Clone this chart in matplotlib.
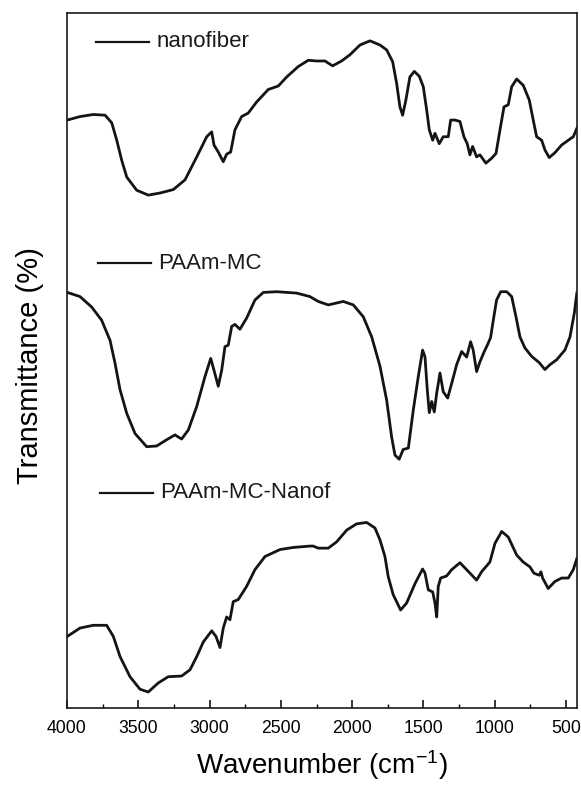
import numpy as np
import matplotlib
matplotlib.use("Agg")
from matplotlib import pyplot as plt
from matplotlib.ticker import MultipleLocator

plt.rcParams['font.family'] = ['Liberation Sans', 'DejaVu Sans']
plt.rcParams['mathtext.default'] = 'regular'

# FTIR spectra (wavenumber in cm-1, transmittance in arbitrary %)
NAMES = ["nanofiber", "PAAm-MC", "PAAm-MC-Nanof"]

wn_nano = [3998, 3909, 3816, 3733, 3686, 3651, 3616, 3581, 3511, 3430, 3348, 3254, 3172, 3090,
           3020, 2985, 2969, 2939, 2904, 2880, 2852, 2822, 2775, 2729, 2670, 2588, 2518, 2459,
           2378, 2308, 2249, 2191, 2137, 2074, 2015, 1945, 1875, 1805, 1758, 1716, 1688, 1665,
           1646, 1623, 1595, 1564, 1529, 1501, 1477, 1459, 1435, 1419, 1389, 1361, 1326, 1309,
           1279, 1244, 1216, 1193, 1174, 1155, 1127, 1104, 1062, 1022, 991, 963, 935, 905, 881,
           846, 800, 758, 725, 706, 671, 648, 618, 578, 531, 484, 449, 424]
t_nano = [84.6, 85.1, 85.4, 85.3, 84.2, 81.7, 78.8, 76.4, 74.5, 73.8, 74.1, 74.6, 76.0, 79.3,
          82.2, 82.9, 81.0, 80.0, 78.6, 79.7, 80.0, 83.2, 85.1, 85.6, 87.2, 89.0, 89.5, 90.8,
          92.3, 93.2, 93.1, 93.1, 92.4, 93.1, 94.0, 95.4, 96.0, 95.4, 94.7, 93.0, 89.9, 86.5,
          85.3, 87.5, 90.8, 91.6, 90.9, 89.4, 86.0, 83.2, 81.7, 82.7, 81.2, 82.2, 82.2, 84.6,
          84.6, 84.4, 82.2, 81.2, 79.6, 80.8, 79.3, 79.6, 78.4, 79.1, 79.8, 83.2, 86.5, 86.8, 89.4,
          90.5, 89.6, 87.5, 84.1, 82.2, 81.7, 80.3, 79.2, 79.9, 81.0, 81.7, 82.2, 83.4]

wn_paam = [3998, 3909, 3827, 3757, 3698, 3663, 3628, 3581, 3523, 3441, 3371, 3301, 3243, 3196,
           3149, 3090, 3032, 2992, 2969, 2939, 2915, 2892, 2869, 2845, 2822, 2787, 2740, 2682,
           2623, 2529, 2389, 2296, 2238, 2167, 2062, 1992, 1922, 1863, 1805, 1758, 1723, 1700,
           1670, 1642, 1606, 1571, 1536, 1506, 1489, 1473, 1459, 1442, 1424, 1407, 1384, 1361,
           1330, 1302, 1267, 1232, 1197, 1169, 1151, 1127, 1104, 1073, 1052, 1029, 1010, 987,
           958, 916, 881, 851, 823, 788, 741, 688, 648, 613, 566, 508, 472, 442, 424]
t_paam = [59.8, 59.2, 57.7, 55.8, 52.9, 49.6, 45.8, 42.4, 39.5, 37.6, 37.7, 38.6, 39.3, 38.7,
          40.0, 43.4, 47.7, 50.3, 48.6, 46.3, 48.6, 52.0, 52.2, 54.9, 55.2, 54.5, 56.1, 58.7,
          59.8, 59.9, 59.7, 59.2, 58.5, 58.0, 58.5, 58.0, 56.3, 53.4, 49.2, 44.3, 39.0, 36.4,
          35.8, 37.2, 37.4, 42.9, 47.7, 51.5, 50.5, 45.8, 42.5, 44.1, 42.6, 45.3, 48.2, 45.5,
          44.6, 46.7, 49.4, 51.3, 50.5, 52.7, 51.5, 48.4, 49.8, 51.3, 52.2, 53.3, 55.8, 58.7,
          59.9, 59.9, 59.2, 56.3, 53.4, 51.8, 50.6, 49.7, 48.7, 49.4, 50.1, 51.5, 53.4, 56.8, 59.7]

wn_comp = [3998, 3909, 3816, 3722, 3675, 3628, 3558, 3488, 3430, 3360, 3290, 3196, 3137, 3090,
           3044, 2985, 2955, 2927, 2904, 2880, 2857, 2834, 2799, 2740, 2682, 2611, 2506, 2413,
           2296, 2273, 2238, 2167, 2109, 2038, 1968, 1898, 1840, 1805, 1770, 1747, 1712, 1660,
           1618, 1559, 1506, 1489, 1466, 1435, 1419, 1407, 1396, 1379, 1337, 1302, 1244, 1197,
           1127, 1092, 1034, 998, 951, 905, 846, 800, 753, 725, 688, 676, 664, 625, 578, 531,
           484, 449, 424]
t_comp = [10.3, 11.5, 11.9, 11.9, 10.3, 7.4, 4.5, 2.7, 2.3, 3.6, 4.5, 4.6, 5.5, 7.4,
          9.5, 11.1, 10.3, 8.7, 11.5, 13.1, 12.7, 15.3, 15.6, 17.5, 19.9, 21.8, 22.8, 23.1,
          23.3, 23.3, 23.0, 23.0, 23.9, 25.6, 26.5, 26.7, 25.9, 24.2, 21.8, 18.9, 16.3, 14.1,
          15.1, 17.9, 20.0, 19.4, 17.0, 16.7, 15.1, 13.1, 17.5, 18.7, 19.0, 19.9, 20.9, 19.9,
          18.4, 19.6, 21.0, 23.7, 25.4, 24.6, 22.0, 21.0, 20.3, 19.4, 19.1, 19.6, 18.7, 17.2,
          18.2, 18.7, 18.7, 19.9, 21.5]

# legend-like tags next to each curve (axes coords)
TAG_Y = [0.959, 0.640, 0.310]
TAG_X0 = [0.057, 0.061, 0.065]

fig = plt.figure(figsize=(5.81, 7.85), dpi=100)
ax = fig.add_axes([0.1153, 0.0981, 0.8778, 0.8853])

CURVE_COLOR = '#141414'
for wn, t in [(wn_nano, t_nano), (wn_paam, t_paam), (wn_comp, t_comp)]:
    ax.plot(wn, t, color=CURVE_COLOR, lw=2.0, solid_joinstyle='round')

for name, ty, tx in zip(NAMES, TAG_Y, TAG_X0):
    ax.plot([tx, tx + 0.103], [ty, ty], color=CURVE_COLOR, lw=1.6, transform=ax.transAxes)
    ax.text(tx + 0.118, ty, name, transform=ax.transAxes, fontsize=16,
            va='center', ha='left', color='#1a1a1a')

ax.set_xlim(4000, 423)
ax.set_ylim(0, 100)
ax.xaxis.set_major_locator(MultipleLocator(500))
ax.xaxis.set_minor_locator(MultipleLocator(250))
ax.tick_params(axis='x', which='major', direction='in', length=6, width=1.1,
               labelsize=12.7, pad=9, top=False)
ax.tick_params(axis='x', which='minor', direction='in', length=3, width=1.0, top=False)
ax.set_yticks([])
for sp in ax.spines.values():
    sp.set_linewidth(1.2)
    sp.set_color('#1a1a1a')

ax.set_xlabel('Wavenumber (cm$^{-1}$)', fontsize=20, va='baseline')
ax.xaxis.set_label_coords(0.5, -0.095)
ax.set_ylabel('Transmittance (%)', fontsize=21)
ax.yaxis.set_label_coords(-0.045, 0.493)

fig.savefig('out.png', dpi=100)
